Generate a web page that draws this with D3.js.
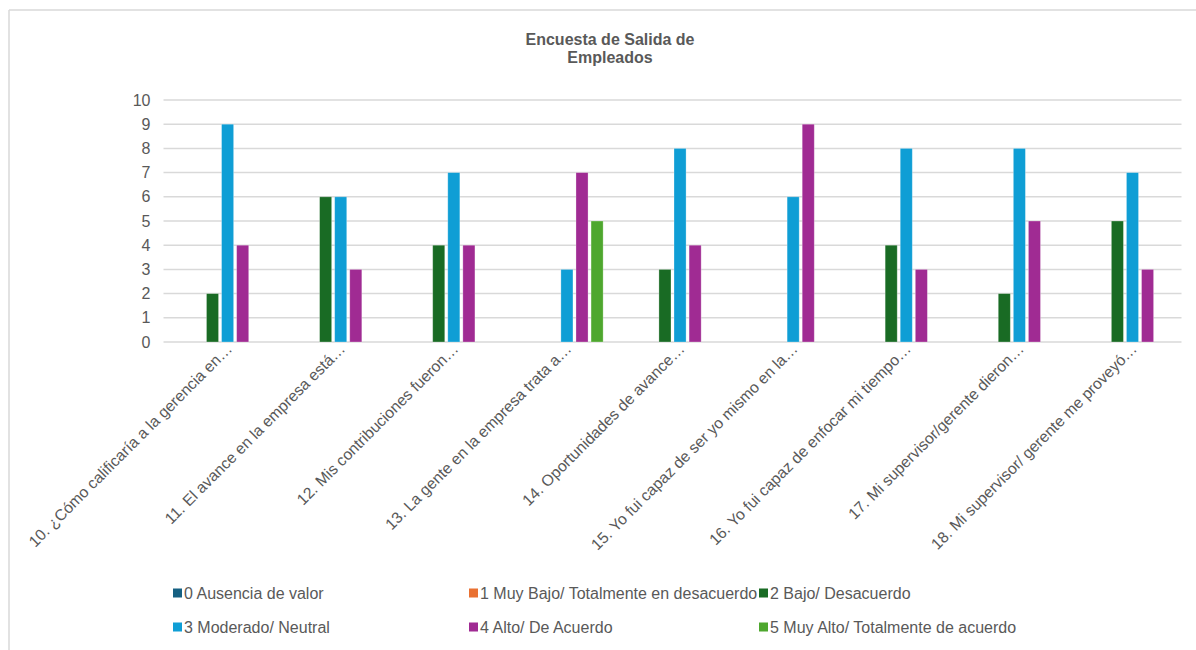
<!DOCTYPE html>
<html>
<head>
<meta charset="utf-8">
<script src="https://cdn.jsdelivr.net/npm/d3@7"></script>
<style>
  html, body { margin: 0; padding: 0; background: #fff; }
  svg { display: block; font-family: "Liberation Sans", Arial, sans-serif; }
</style>
</head>
<body>
<svg id="chart" width="1196" height="650"></svg>
<script>
// Survey questions (category axis)
const categories = [
  "10. ¿Cómo calificaría a la gerencia en…",
  "11. El avance en la empresa está…",
  "12. Mis contribuciones fueron…",
  "13. La gente en la empresa trata a…",
  "14. Oportunidades de avance…",
  "15. Yo fui capaz de ser yo mismo en la…",
  "16. Yo fui capaz de enfocar mi tiempo…",
  "17. Mi supervisor/gerente dieron…",
  "18. Mi supervisor/ gerente me proveyó…"
];

// Answer scale (series)
const seriesNames = [
  "0 Ausencia de valor",
  "1 Muy Bajo/ Totalmente en desacuerdo",
  "2 Bajo/ Desacuerdo",
  "3 Moderado/ Neutral",
  "4 Alto/ De Acuerdo",
  "5 Muy Alto/ Totalmente de acuerdo"
];
const seriesColors = ["#156082", "#E97132", "#196B24", "#0F9ED5", "#A02B93", "#4EA72E"];

// Number of responses per question, one array per answer level (null = no bar)
const s0 = [null, null, null, null, null, null, null, null, null];
const s1 = [null, null, null, null, null, null, null, null, null];
const s2 = [2, 6, 4, null, 3, null, 4, 2, 5];
const s3 = [9, 6, 7, 3, 8, 6, 8, 8, 7];
const s4 = [4, 3, 4, 7, 4, 9, 3, 5, 3];
const s5 = [null, null, null, 5, null, null, null, null, null];
const seriesValues = [s0, s1, s2, s3, s4, s5];

const yTicks = [0, 1, 2, 3, 4, 5, 6, 7, 8, 9, 10];

const svg = d3.select("#chart");
const textColor = "#595959";
const gridColor = "#d9d9d9";
const fontSize = "16px";

// chart frame (top and left edges)
svg.append("line").attr("x1", 9).attr("x2", 1196).attr("y1", 10).attr("y2", 10)
  .attr("stroke", gridColor).attr("stroke-width", 1.5);
svg.append("line").attr("x1", 9).attr("x2", 9).attr("y1", 10).attr("y2", 650)
  .attr("stroke", gridColor).attr("stroke-width", 1.5);

// title
const title = svg.append("text")
  .attr("x", 610).attr("text-anchor", "middle")
  .attr("font-weight", "bold").attr("font-size", fontSize).attr("fill", textColor);
title.append("tspan").attr("x", 610).attr("y", 45).text("Encuesta de Salida de");
title.append("tspan").attr("x", 610).attr("y", 63).text("Empleados");

const plot = { left: 163.5, right: 1181.5, top: 100, bottom: 342 };

const x0 = d3.scaleBand()
  .domain(categories)
  .range([plot.left, plot.right])
  .paddingInner(0.2).paddingOuter(0.1);

const x1 = d3.scaleBand()
  .domain(d3.range(seriesNames.length))
  .range([0, x0.bandwidth()])
  .paddingInner(0.2).paddingOuter(0.1);

const y = d3.scaleLinear().domain([0, 10]).range([plot.bottom, plot.top]);

// horizontal gridlines
svg.append("g").selectAll("line").data(yTicks).join("line")
  .attr("x1", plot.left).attr("x2", plot.right)
  .attr("y1", d => y(d)).attr("y2", d => y(d))
  .attr("stroke", gridColor).attr("stroke-width", 1.5);

// y axis labels
const yAxis = svg.append("g")
  .attr("transform", `translate(${plot.left - 13},0)`)
  .call(d3.axisLeft(y).tickValues(yTicks).tickSize(0).tickPadding(0));
yAxis.select(".domain").remove();
yAxis.selectAll("text")
  .attr("font-size", fontSize).attr("fill", textColor)
  .attr("font-family", "Liberation Sans, Arial, sans-serif");

// bars
const groups = svg.append("g").selectAll("g").data(categories).join("g")
  .attr("transform", d => `translate(${x0(d)},0)`);

groups.selectAll("rect")
  .data((d, ci) => seriesValues.map((vals, si) => ({ si, v: vals[ci] })).filter(e => e.v != null))
  .join("rect")
  .attr("x", d => x1(d.si))
  .attr("width", x1.bandwidth())
  .attr("y", d => y(d.v))
  .attr("height", d => y(0) - y(d.v))
  .attr("fill", d => seriesColors[d.si])
  .attr("stroke", "#ffffff").attr("stroke-opacity", 0.35).attr("stroke-width", 0.8);

// rotated category labels
svg.append("g").selectAll("text").data(categories).join("text")
  .attr("transform", d => `translate(${x0(d) + x0.bandwidth() / 2 + 13},350) rotate(-45)`)
  .attr("text-anchor", "end")
  .attr("font-size", "15.7px").attr("fill", textColor)
  .text(d => d);

// legend
const legendX = [173, 469, 759];
const legendY = [593, 627];
const legend = svg.append("g").selectAll("g").data(seriesNames).join("g")
  .attr("transform", (d, i) => `translate(${legendX[i % 3]},${legendY[Math.floor(i / 3)]})`);
legend.append("rect")
  .attr("x", 0).attr("y", -4.5).attr("width", 9).attr("height", 9)
  .attr("fill", (d, i) => seriesColors[i]);
legend.append("text")
  .attr("x", 11).attr("y", 0).attr("dy", "0.36em")
  .attr("font-size", fontSize).attr("fill", textColor)
  .text(d => d);
</script>
</body>
</html>
